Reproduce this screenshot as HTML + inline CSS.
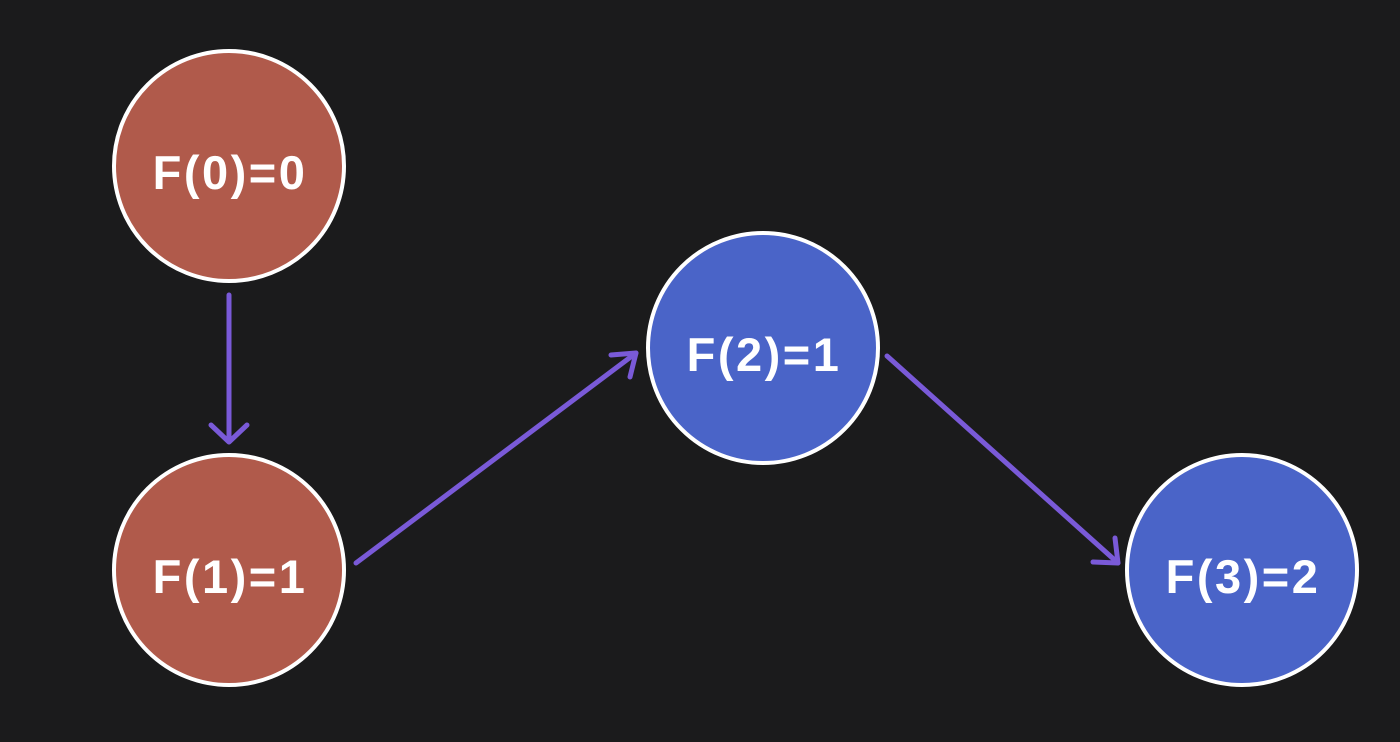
<!DOCTYPE html>
<html><head><meta charset="utf-8"><style>
html,body{margin:0;padding:0;background:#1b1b1c;}
svg{display:block}
text{font-family:"Liberation Sans",sans-serif;font-weight:bold;font-size:47px;fill:#fff;letter-spacing:2.5px;}
</style></head><body>
<svg width="1400" height="742" viewBox="0 0 1400 742">
<rect width="1400" height="742" fill="#1b1b1c"/>
<g stroke="#7a5ad8" stroke-width="5" fill="none" stroke-linecap="round" stroke-linejoin="round">
<line x1="229" y1="295" x2="229" y2="441"/>
<polyline points="211,425 229,442 247,425"/>
<line x1="356" y1="563" x2="636" y2="353"/>
<polyline points="611,355 636,353 630,377"/>
<line x1="887" y1="356" x2="1118" y2="563"/>
<polyline points="1115,538 1118,563 1093,562"/>
</g>
<g stroke="#fff" stroke-width="4">
<circle cx="229" cy="166" r="115" fill="#b05a4b"/>
<circle cx="229" cy="570" r="115" fill="#b05a4b"/>
<circle cx="763" cy="348" r="115" fill="#4a64c8"/>
<circle cx="1242" cy="570" r="115" fill="#4a64c8"/>
</g>
<g text-anchor="middle">
<text x="230" y="189">F(0)=0</text>
<text x="230" y="593">F(1)=1</text>
<text x="764" y="371">F(2)=1</text>
<text x="1243" y="593">F(3)=2</text>
</g>
</svg>
</body></html>
